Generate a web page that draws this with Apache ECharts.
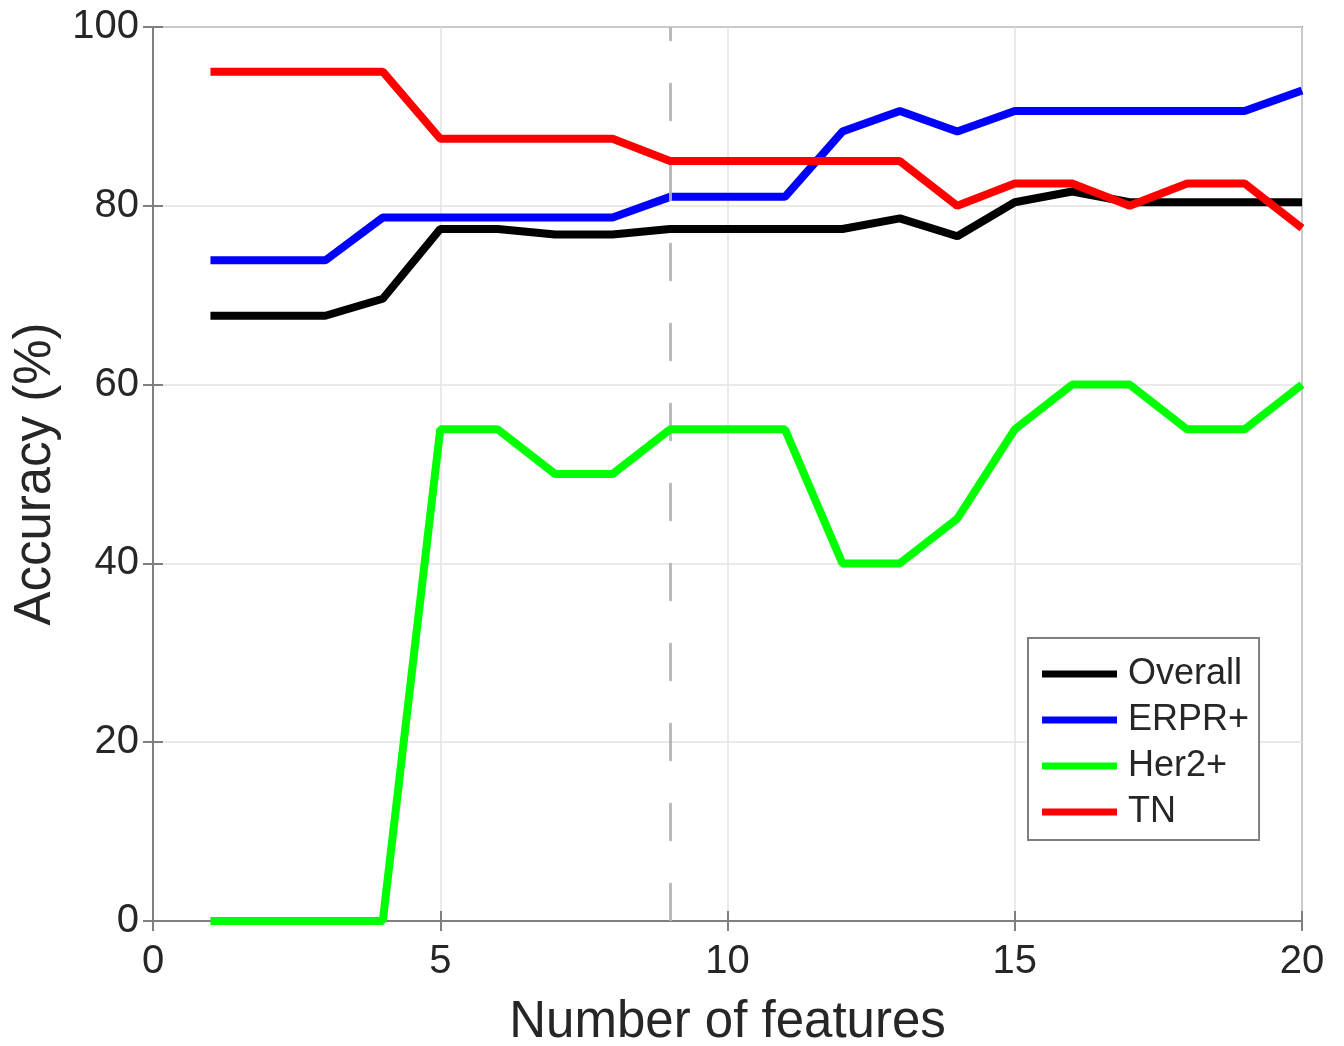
<!DOCTYPE html>
<html>
<head>
<meta charset="utf-8">
<script src="https://cdn.jsdelivr.net/npm/echarts@6/dist/echarts.min.js"></script>
<style>
html,body{margin:0;padding:0;background:#fff;}
#chart{width:1344px;height:1046px;}
</style>
</head>
<body>
<div id="chart"></div>
<script>
const features = [1,2,3,4,5,6,7,8,9,10,11,12,13,14,15,16,17,18,19,20];
const overall = [67.7,67.7,67.7,69.6,77.4,77.4,76.8,76.8,77.4,77.4,77.4,77.4,78.6,76.6,80.4,81.6,80.4,80.4,80.4,80.4];
const erpr = [73.9,73.9,73.9,78.7,78.7,78.7,78.7,78.7,81.0,81.0,81.0,88.3,90.6,88.3,90.6,90.6,90.6,90.6,90.6,92.9];
const her2 = [0,0,0,0,55,55,50,50,55,55,55,40,40,45,55,60,60,55,55,60];
const tn = [95,95,95,95,87.5,87.5,87.5,87.5,85,85,85,85,85,80,82.5,82.5,80,82.5,82.5,77.5];
const selectedFeatures = 9;
const seriesNames = ['Overall','ERPR+','Her2+','TN'];
const seriesColors = ['#000000','#0000ff','#00ff00','#ff0000'];

const FONT = 'Liberation Sans, Arial, sans-serif';
const TXT = '#262626';
const FRAME = '#7f7f7f';

function pairs(vals){ return features.map((x,i)=>[x, vals[i]]); }
const allVals = [overall, erpr, her2, tn];

const series = allVals.map((v,i)=>({
  name: seriesNames[i],
  type: 'line',
  data: pairs(v),
  symbol: 'none',
  color: seriesColors[i],
  lineStyle: {color: seriesColors[i], width: 8},
  z: 3 + i,
  animation: false
}));
series.push({
  type: 'line',
  data: [],
  markLine: {
    silent: true,
    symbol: 'none',
    label: {show: false},
    lineStyle: {color: '#b3b3b3', width: 3, type: [38, 42], opacity: 0.9},
    data: [{xAxis: selectedFeatures}]
  },
  z: 20,
  animation: false
});

const chart = echarts.init(document.getElementById('chart'), null, {renderer: 'canvas'});
chart.setOption({
  backgroundColor: '#ffffff',
  animation: false,
  grid: {left: 153, right: 42, top: 27, bottom: 125, outerBoundsMode: 'none', containLabel: false, show: true, borderColor: FRAME, borderWidth: 2, backgroundColor: 'transparent'},
  legend: {
    orient: 'vertical',
    left: 1028, top: 638,
    data: seriesNames,
    icon: 'rect',
    itemWidth: 75, itemHeight: 7,
    itemGap: 10,
    padding: [18, 10, 10, 14],
    borderColor: FRAME, borderWidth: 2, borderRadius: 0,
    backgroundColor: '#ffffff',
    textStyle: {fontFamily: FONT, fontSize: 36, color: TXT, lineHeight: 36, padding: [0,0,0,6]}
  },
  xAxis: [{
    type: 'value', min: 0, max: 20, interval: 5,
    name: 'Number of features', nameLocation: 'middle', nameGap: 76,
    nameTextStyle: {fontFamily: FONT, fontSize: 51, color: TXT},
    axisLine: {show: true, lineStyle: {color: FRAME, width: 2}},
    axisTick: {show: true, inside: true, length: 10, lineStyle: {color: FRAME, width: 2}},
    axisLabel: {fontFamily: FONT, fontSize: 40, color: TXT, margin: 21},
    splitLine: {show: true, lineStyle: {color: '#e3e3e3', width: 1.5}}
  },{
    type: 'value', min: 0, max: 20, interval: 5, position: 'top',
    axisLine: {show: true, lineStyle: {color: FRAME, width: 2}},
    axisTick: {show: true, inside: true, length: 10, lineStyle: {color: FRAME, width: 2}},
    axisLabel: {show: false}, splitLine: {show: false}
  }],
  yAxis: [{
    type: 'value', min: 0, max: 100, interval: 20,
    name: 'Accuracy (%)', nameLocation: 'middle', nameGap: 90, nameRotate: 90,
    nameTextStyle: {fontFamily: FONT, fontSize: 51, color: TXT},
    axisLine: {show: true, lineStyle: {color: FRAME, width: 2}},
    axisTick: {show: true, inside: true, length: 10, lineStyle: {color: FRAME, width: 2}},
    axisLabel: {fontFamily: FONT, fontSize: 40, color: TXT, margin: 14},
    splitLine: {show: true, lineStyle: {color: '#e3e3e3', width: 1.5}}
  },{
    type: 'value', min: 0, max: 100, interval: 20, position: 'right',
    axisLine: {show: true, lineStyle: {color: FRAME, width: 2}},
    axisTick: {show: true, inside: true, length: 10, lineStyle: {color: FRAME, width: 2}},
    axisLabel: {show: false}, splitLine: {show: false}
  }],
  series: series
});
</script>
</body>
</html>
